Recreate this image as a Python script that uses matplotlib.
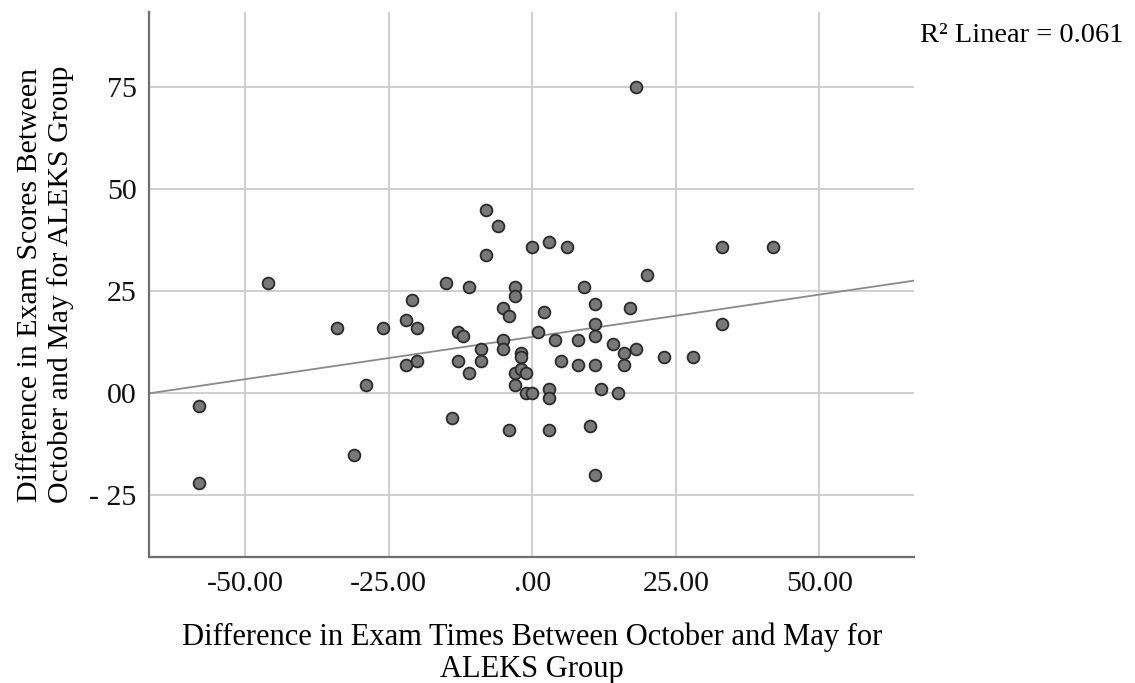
import numpy as np
import matplotlib.pyplot as plt

plt.rcParams['font.family'] = ['Liberation Serif', 'DejaVu Serif']

# change in exam time (x) and change in exam score (y), ALEKS group
time_diff = [-58, -58, -46, -34, -31, -29, -26, -22, -22, -21, -20, -20,
             -15, -14, -13, -13, -12, -11, -11, -9, -9, -8, -8, -6,
             -5, -5, -5, -4, -4, -3, -3, -3, -3, -2, -2, -2,
             -1, -1, 0, 0, 1, 2, 3, 3, 3, 3, 4, 5,
             6, 8, 8, 9, 10, 11, 11, 11, 11, 11, 12, 14,
             15, 16, 16, 17, 18, 18, 20, 23, 28, 33, 33, 42]
score_diff = [-3, -22, 27, 16, -15, 2, 16, 18, 7, 23, 16, 8,
              27, -6, 15, 8, 14, 26, 5, 11, 8, 45, 34, 41,
              21, 13, 11, 19, -9, 26, 24, 5, 2, 10, 9, 6,
              5, 0, 0, 36, 15, 20, 37, 1, -1, -9, 13, 8,
              36, 13, 7, 26, -8, 22, 17, 14, 7, -20, 1, 12,
              0, 10, 7, 21, 11, 75, 29, 9, 9, 36, 17, 36]

x_ticks = [-50, -25, 0, 25, 50]
x_labels = ['-50.00', '-25.00', '.00', '25.00', '50.00']
y_ticks = [-25, 0, 25, 50, 75]
y_labels = ['- 25', '00', '25', '50', '75']
r2_text = 'R\u00b2 Linear = 0.061'

x = np.array(time_diff, dtype=float)
y = np.array(score_diff, dtype=float)

fig = plt.figure(figsize=(11.35, 6.83), dpi=100)
ax = fig.add_axes([0.1313, 0.1849, 0.6742, 0.7971])

xmin, xmax = -66.7, 66.5
ax.set_xlim(xmin, xmax)
ax.set_ylim(-40, 93.4)

ax.grid(True, color='#cccccc', linewidth=1.3)
ax.set_axisbelow(True)

# least squares fit line across the whole axis
slope, intercept = np.polyfit(x, y, 1)
xs = np.array([xmin, xmax])
ax.plot(xs, intercept + slope * xs, color='#8a8a8a', linewidth=1.3, zorder=2)

ax.scatter(x, y, s=72, facecolor='#787878', edgecolor='#2a2a2a',
           linewidth=1.3, zorder=3)

ax.set_xticks(x_ticks)
ax.set_xticklabels(x_labels)
ax.set_yticks(y_ticks)
ax.set_yticklabels(y_labels)
ax.tick_params(length=0, labelsize=21.5, colors='#111111')
ax.tick_params(axis='x', pad=10)
ax.tick_params(axis='y', pad=9)

for side in ['top', 'right']:
    ax.spines[side].set_visible(False)
for side in ['left', 'bottom']:
    ax.spines[side].set_color('#6e6e6e')
    ax.spines[side].set_linewidth(1.6)

ax.set_xlabel('Difference in Exam Times Between October and May for\nALEKS Group',
              fontsize=22, labelpad=19, linespacing=1.12)
ax.set_ylabel('Difference in Exam Scores Between\nOctober and May for ALEKS Group',
              fontsize=21.5, labelpad=11, linespacing=1.2)

fig.text(0.811, 0.948, r2_text, fontsize=20.5, ha='left', va='center')

fig.savefig('out.png', dpi=100)
